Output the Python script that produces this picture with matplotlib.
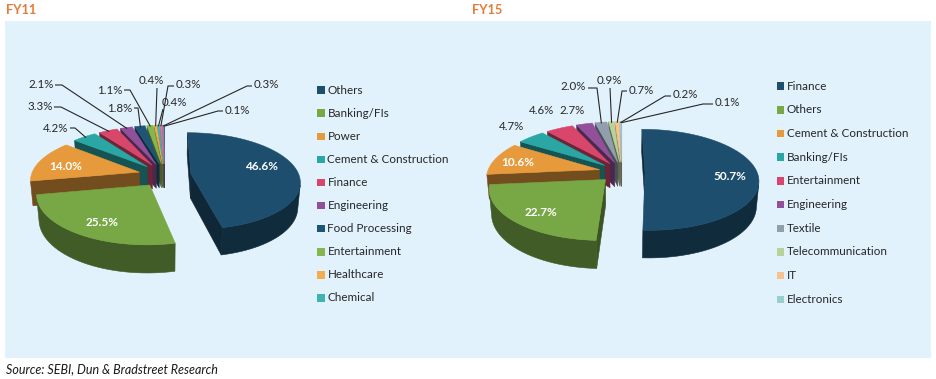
import numpy as np
import matplotlib
matplotlib.use("Agg")
import matplotlib.pyplot as plt
from matplotlib.patches import Polygon, Rectangle
import matplotlib.colors as mcolors

plt.rcParams['font.family'] = ['Lato', 'DejaVu Sans']

# ---------------- data ----------------
fy11_categories = ['Others', 'Banking/FIs', 'Power', 'Cement & Construction', 'Finance',
                   'Engineering', 'Food Processing', 'Entertainment', 'Healthcare', 'Chemical']
# the chart has 13 slices, its legend lists only the first ten
fy11_values = [46.6, 25.5, 14.0, 4.2, 3.3, 2.1, 1.8, 1.1, 0.4, 0.4, 0.3, 0.3, 0.1]

fy15_categories = ['Finance', 'Others', 'Cement & Construction', 'Banking/FIs', 'Entertainment',
                   'Engineering', 'Textile', 'Telecommunication', 'IT', 'Electronics']
# 11 slices, legend lists the first ten
fy15_values = [50.7, 22.7, 10.6, 4.7, 4.6, 2.7, 2.0, 0.9, 0.7, 0.2, 0.1]

# ---------------- styles ----------------
fy11_colors = ['#1D4E6D', '#77A845', '#E79A3B', '#2AA7A4', '#D8476B', '#93509A',
               '#1E5577', '#86B74F', '#F2AE4E', '#3EB4B0', '#E0708C', '#A874AE', '#2F6A90']
fy15_colors = ['#1D4E6D', '#77A845', '#E79A3B', '#2AA7A4', '#D8476B', '#93509A',
               '#929EAD', '#B6D49A', '#F6C28E', '#98CECE', '#A9B4C2']

BG = '#E2F2FC'
TXT = '#262626'
TITLE = '#E27D3A'

# pie geometry (pixel scale, centre, explosion, depth, view)
P11 = dict(s=108, cx=164.7, cy=175, e=0.245, h=0.257, sinp=0.44, L=6.0)
P15 = dict(s=112, cx=621.8, cy=172, e=0.207, h=0.249, sinp=0.44, L=6.0)

# label layout: index -> (text x, text y, leader path points near label or None)
L11 = {
    3: (56, 128, [(70, 128), (75, 128)]),
    4: (40, 107, [(54, 107), (61, 107)]),
    5: (41, 85, [(55, 85), (62, 85)]),
    6: (120, 108, [(134, 108), (138, 108)]),
    7: (110, 90, [(124, 90), (130, 90)]),
    8: (151, 81, [(157, 88)]),
    9: (174, 103, [(163, 109)]),
    10: (188, 85, [(174, 86), (168, 86)]),
    11: (266, 85, [(252, 86), (247, 86)]),
    12: (237, 110, [(223, 111), (218, 111)]),
}
L15 = {
    3: (511, 127, None),
    4: (541, 111, None),
    5: (572, 110, None),
    6: (573, 87, [(588, 88), (597, 88)]),
    7: (609, 80, [(610, 88)]),
    8: (641, 90, [(627, 91), (622, 91)]),
    9: (685, 95, [(671, 96), (665, 96)]),
    10: (727, 103, [(713, 104), (703, 104)]),
}
IN11 = {0: (262, 166), 1: (102, 222), 2: (66, 166)}
IN15 = {0: (730, 176), 1: (541, 213), 2: (518, 163)}


def darken(c, f):
    r, g, b = mcolors.to_rgb(c)
    return (r * f, g * f, b * f)


def draw_pie3d(ax, values, colors, P, outer, inner):
    total = float(sum(values))
    sinp = P['sinp']
    cosp = np.sqrt(1 - sinp ** 2)
    L, s, cx, cy, e, h = P['L'], P['s'], P['cx'], P['cy'], P['e'], P['h']
    cam = np.array([0.0, -L * cosp])

    def proj(X, Y, Z):
        X = np.asarray(X, float); Y = np.asarray(Y, float); Z = np.asarray(Z, float)
        w = L + Y * cosp - Z * sinp
        return cx + s * L * X / w, cy - s * L * (Y * sinp + Z * cosp) / w

    slices = []
    start = 90.0
    for i, (v, col) in enumerate(zip(values, colors)):
        span = 360.0 * v / total
        b = start
        a = start - span
        start = a
        mid = np.radians(0.5 * (a + b))
        slices.append(dict(i=i, a=np.radians(a), b=np.radians(b), mid=mid,
                           ox=e * np.cos(mid), oy=e * np.sin(mid), col=col))

    def dist(sl):
        px = sl['ox'] + 0.55 * np.cos(sl['mid'])
        py = sl['oy'] + 0.55 * np.sin(sl['mid'])
        return np.hypot(px - cam[0], py - cam[1])

    def poly(xs, ys, col):
        ax.add_patch(Polygon(np.column_stack([xs, ys]), closed=True, facecolor=col,
                             edgecolor=col, linewidth=0.4, joinstyle='round'))

    for sl in sorted(slices, key=dist, reverse=True):
        a, b, ox, oy, col = sl['a'], sl['b'], sl['ox'], sl['oy'], sl['col']
        n = max(4, int(np.degrees(b - a) / 1.0) + 2)
        th = np.linspace(a, b, n)
        ax_ = ox + np.cos(th)
        ay_ = oy + np.sin(th)
        side = darken(col, 0.55)
        face = darken(col, 0.5)
        # radial faces
        for ang, nrm in ((b, (-np.sin(b), np.cos(b))), (a, (np.sin(a), -np.cos(a)))):
            if (cam[0] - ox) * nrm[0] + (cam[1] - oy) * nrm[1] > 0:
                X = [ox, ox + np.cos(ang), ox + np.cos(ang), ox]
                Y = [oy, oy + np.sin(ang), oy + np.sin(ang), oy]
                Z = [0, 0, -h, -h]
                xs, ys = proj(X, Y, Z)
                poly(xs, ys, face)
        # outer wall (visible runs)
        vis = (cam[0] - ax_) * np.cos(th) + (cam[1] - ay_) * np.sin(th) > 0
        idx = np.where(vis)[0]
        if len(idx) > 1:
            runs = np.split(idx, np.where(np.diff(idx) > 1)[0] + 1)
            for r in runs:
                if len(r) < 2:
                    continue
                xt, yt = proj(ax_[r], ay_[r], np.zeros(len(r)))
                xb, yb = proj(ax_[r], ay_[r], np.full(len(r), -h))
                poly(np.concatenate([xt, xb[::-1]]), np.concatenate([yt, yb[::-1]]), side)
        # top face
        xs, ys = proj(np.concatenate([[ox], ax_]), np.concatenate([[oy], ay_]), np.zeros(n + 1))
        poly(xs, ys, col)

    # labels
    for i, sl in enumerate(slices):
        txt = f"{values[i]:.1f}%"
        if i in inner:
            x, y = inner[i]
            ax.text(x, y, txt, color='white', fontsize=8.5, fontweight='bold',
                    ha='center', va='center')
        elif i in outer:
            x, y, path = outer[i]
            ax.text(x, y, txt, color=TXT, fontsize=8.3, ha='center', va='center')
            if path:
                ex, ey = proj(sl['ox'] + 0.97 * np.cos(sl['mid']),
                              sl['oy'] + 0.97 * np.sin(sl['mid']), 0.0)
                pts = list(path) + [(float(ex), float(ey))]
                ax.plot([p[0] for p in pts], [p[1] for p in pts], color='#262626',
                        linewidth=0.8, solid_capstyle='butt')


def draw_legend(ax, cats, colors, x, y0, dy):
    for k, (c, col) in enumerate(zip(cats, colors)):
        y = y0 + k * dy
        ax.add_patch(Rectangle((x, y - 3.7), 7.5, 7.5, facecolor=col, edgecolor='none'))
        ax.text(x + 10, y, c, color=TXT, fontsize=8.4, ha='left', va='center')


fig = plt.figure(figsize=(9.37, 3.79), dpi=100)
ax = fig.add_axes([0, 0, 1, 1])
ax.set_xlim(0, 937)
ax.set_ylim(379, 0)
ax.axis('off')

ax.add_patch(Rectangle((5, 21), 926, 336.5, facecolor=BG, edgecolor='none'))

ax.text(6.5, 9.5, 'FY11', color=TITLE, fontsize=9.3, fontweight='bold', ha='left', va='center')
ax.text(472, 9.5, 'FY15', color=TITLE, fontsize=9.3, fontweight='bold', ha='left', va='center')

draw_pie3d(ax, fy11_values, fy11_colors, P11, L11, IN11)
draw_pie3d(ax, fy15_values, fy15_colors, P15, L15, IN15)

draw_legend(ax, fy11_categories, fy11_colors, 317.5, 90, 23.1)
draw_legend(ax, fy15_categories, fy15_colors, 777, 86, 23.7)

ax.text(6, 369, 'Source: SEBI, Dun & Bradstreet Research', color='#1A1A1A', fontsize=9,
        fontstyle='italic', ha='left', va='center')

fig.savefig('out.png', dpi=100)
